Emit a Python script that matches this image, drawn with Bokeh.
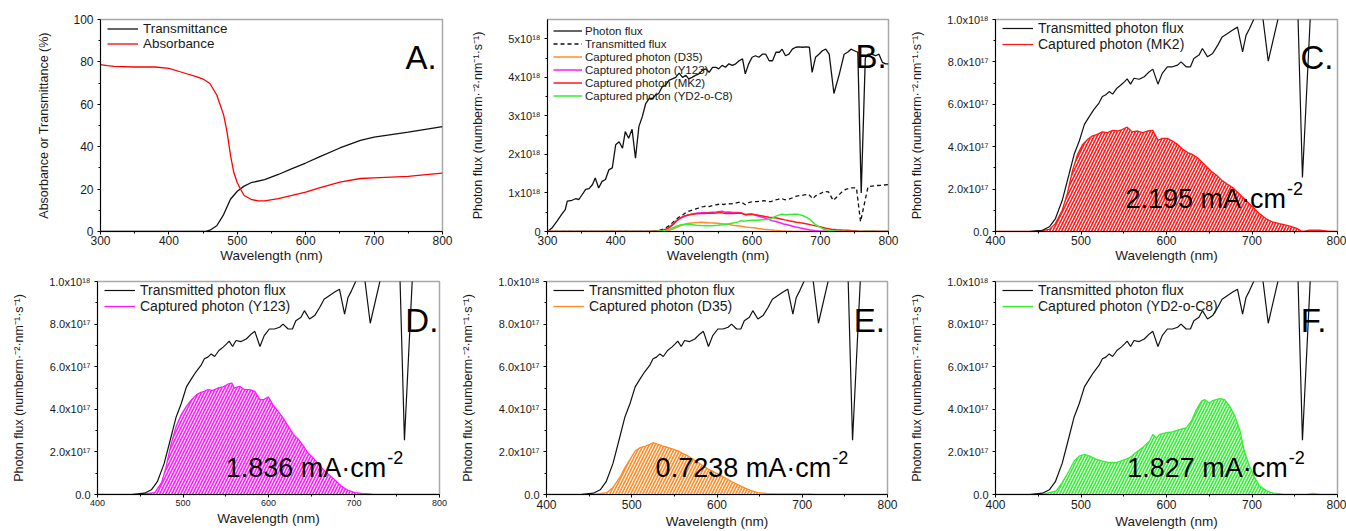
from bokeh.plotting import figure
from bokeh.layouts import row, column
from bokeh.models import FixedTicker, CustomJSTickFormatter, Label, Legend, LegendItem
from bokeh.embed import file_html
from bokeh.resources import INLINE

FONT = "Liberation Sans"

# ---------------- data ----------------
wl_transmittance = [300, 440, 450, 455, 460, 470, 480, 490, 500, 510, 520, 540, 560, 580, 600, 620, 650, 680, 700, 750, 800]
transmittance = [0, 0, 0.0, 0.2, 0.6, 2.7, 8.0, 15.2, 19.0, 21.4, 23.0, 24.5, 26.9, 29.7, 32.3, 35.2, 39.4, 43.0, 44.5, 46.9, 49.5]

wl_absorbance = [300, 310, 320, 350, 380, 400, 420, 440, 450, 460, 470, 480, 485, 490, 495, 500, 505, 510, 520, 530,
                 540, 560, 580, 600, 620, 650, 680, 700, 750, 780, 800]
absorbance = [78.7, 78.2, 77.9, 77.6, 77.6, 76.9, 75.0, 73.0, 71.9, 69.8, 64.4, 55.0, 47.0, 36.0, 27.7, 23.0, 19.8, 17.0, 15.2, 14.4,
              14.4, 15.5, 17.0, 18.6, 20.6, 23.3, 25.0, 25.3, 26.0, 26.9, 27.5]

# (wavelength nm, value in 1e18 photons)
photon_flux_1e18 = [
    (300, 0.0), (307, 0.10), (314, 0.27), (321, 0.45), (326, 0.57), (329, 0.79), (336, 0.81), (341, 0.85), (346, 0.83),
    (351, 0.96), (356, 1.09), (361, 1.11), (366, 1.22), (370, 1.39), (375, 1.13), (380, 1.30), (385, 1.35), (390, 1.60),
    (395, 1.65), (400, 2.25), (405, 2.33), (410, 2.16), (414, 2.59), (419, 2.42), (424, 2.65), (429, 1.90), (434, 2.72),
    (439, 2.98), (444, 3.32), (449, 3.45), (454, 3.45), (458, 3.53), (463, 3.58), (468, 3.75), (473, 3.79), (478, 3.92),
    (483, 3.96), (488, 4.00), (493, 4.11), (498, 4.00), (503, 4.05), (507, 3.96), (512, 4.00), (517, 4.05), (522, 4.09),
    (527, 4.18), (532, 4.22), (537, 4.13), (542, 4.26), (547, 4.26), (551, 4.22), (556, 4.31), (561, 4.26), (566, 4.35),
    (571, 4.31), (576, 4.35), (581, 4.43), (586, 4.48), (590, 4.09), (595, 4.35), (600, 4.52), (605, 4.56), (610, 4.52),
    (615, 4.60), (620, 4.60), (625, 4.43), (630, 4.43), (635, 4.65), (640, 4.65), (644, 4.73), (649, 4.56), (654, 4.60),
    (659, 4.73), (664, 4.78), (669, 4.79), (674, 4.78), (679, 4.79), (684, 4.78), (688, 4.13), (693, 4.52), (698, 4.60),
    (703, 4.69), (708, 4.73), (713, 4.60), (720, 3.58), (728, 4.09), (735, 4.60), (740, 4.65), (745, 4.73), (750, 4.69),
    (755, 4.65), (760, 1.00), (766, 4.50), (770, 4.60), (775, 4.60), (781, 4.56), (786, 4.60), (791, 4.39), (796, 4.35),
    (800, 4.35)]

# (wavelength nm, value in 1e17 photons)
transmitted_flux_1e17 = [
    (300, 0), (440, 0), (447, 0.03), (455, 0.06), (463, 0.22), (470, 0.6), (478, 1.46), (486, 2.7), (492, 3.64), (498, 4.27),
    (504, 5.05), (510, 5.44), (515, 5.75), (521, 6.06), (525, 6.37), (529, 6.45), (533, 6.6), (537, 6.48), (542, 6.76),
    (547, 6.92), (551, 7.07), (554, 7.2), (558, 6.95), (562, 7.23), (568, 7.18), (574, 7.3), (580, 7.54), (584, 7.66),
    (590, 6.95), (595, 7.46), (601, 7.77), (607, 7.77), (613, 7.85), (617, 8.0), (623, 7.77), (628, 7.77), (632, 8.16),
    (638, 8.32), (642, 8.63), (648, 8.24), (654, 8.4), (660, 8.79), (665, 9.17), (671, 9.33), (677, 9.49), (683, 9.64),
    (689, 8.47), (693, 9.25), (697, 9.56), (702, 10.0), (706, 10.4), (712, 10.3), (719, 8.04), (732, 10.3), (737, 10.9),
    (745, 11.3), (753, 11.3), (759, 2.55), (770, 11.6), (780, 11.9), (790, 12.0), (800, 12.2)]

captured_mk2_1e17 = [
    (300, 0), (447, 0), (463, 0.1), (470, 0.37), (478, 1.0), (484, 1.78), (490, 2.87), (496, 3.64), (502, 4.11), (508, 4.35),
    (513, 4.5), (519, 4.58), (525, 4.7), (531, 4.66), (537, 4.77), (543, 4.74), (548, 4.81), (554, 4.92), (560, 4.7),
    (566, 4.74), (572, 4.66), (578, 4.74), (584, 4.77), (590, 4.3), (595, 4.39), (601, 4.39), (607, 4.27), (613, 4.11),
    (619, 3.88), (625, 3.72), (630, 3.64), (636, 3.49), (642, 3.26), (648, 3.02), (654, 2.79), (660, 2.6), (665, 2.4),
    (671, 2.24), (677, 2.09), (685, 1.78), (693, 1.46), (701, 1.15), (708, 0.87), (716, 0.61), (724, 0.45), (732, 0.37),
    (740, 0.3), (747, 0.22), (753, 0.14), (757, 0.03), (761, 0), (767, 0.06), (779, 0.06), (786, 0.03), (792, 0), (800, 0)]

captured_y123_1e17 = [
    (300, 0), (450, 0), (467, 0.09), (475, 0.56), (480, 1.26), (486, 2.35), (492, 3.2), (498, 3.75), (504, 4.14), (510, 4.45),
    (516, 4.69), (521, 4.8), (525, 4.84), (529, 4.92), (535, 4.89), (541, 5.0), (547, 5.05), (553, 5.19), (557, 5.23),
    (560, 5.0), (566, 5.08), (572, 4.92), (578, 4.92), (584, 4.84), (590, 4.45), (594, 4.45), (600, 4.58), (605, 4.22),
    (611, 3.91), (617, 3.6), (623, 3.21), (629, 2.82), (635, 2.59), (641, 2.27), (646, 1.96), (652, 1.73), (658, 1.45),
    (664, 1.18), (670, 0.95), (678, 0.67), (685, 0.4), (693, 0.2), (701, 0.09), (709, 0.05), (721, 0.02), (740, 0), (800, 0)]

captured_d35_1e17 = [
    (300, 0), (455, 0), (471, 0.09), (478, 0.33), (486, 0.8), (492, 1.26), (498, 1.65), (504, 2.04), (510, 2.2), (516, 2.27),
    (521, 2.35), (525, 2.43), (531, 2.35), (537, 2.27), (543, 2.2), (549, 2.12), (555, 2.04), (560, 1.92), (566, 1.81),
    (572, 1.65), (578, 1.5), (584, 1.34), (590, 1.18), (596, 1.07), (602, 0.95), (609, 0.79), (617, 0.61), (625, 0.45),
    (633, 0.3), (641, 0.17), (648, 0.09), (658, 0.05), (670, 0.03), (709, 0.03), (717, 0), (800, 0)]

captured_yd2_1e17 = [
    (300, 0), (455, 0), (471, 0.17), (478, 0.56), (486, 1.1), (492, 1.57), (498, 1.8), (504, 1.88), (510, 1.8), (518, 1.65),
    (525, 1.57), (533, 1.5), (541, 1.5), (549, 1.6), (557, 1.73), (564, 1.96), (572, 2.2), (580, 2.5), (584, 2.82),
    (588, 2.66), (592, 2.82), (600, 2.9), (607, 2.94), (615, 3.05), (623, 3.13), (629, 3.44), (635, 3.99), (641, 4.38),
    (645, 4.45), (650, 4.3), (654, 4.41), (662, 4.5), (668, 4.45), (674, 4.14), (680, 3.68), (686, 2.98), (691, 2.04),
    (697, 1.34), (703, 0.79), (709, 0.4), (717, 0.17), (725, 0.06), (736, 0.02), (756, 0), (765, 0.02), (771, 0.05),
    (779, 0.02), (790, 0), (800, 0)]

current_labels = {"MK2": "2.195", "Y123": "1.836", "D35": "0.7238", "YD2-o-C8": "1.827"}

wl_ticks_AB = [300, 400, 500, 600, 700, 800]
wl_minor_AB = [350, 450, 550, 650, 750]
wl_ticks_CF = [400, 500, 600, 700, 800]
wl_minor_CF = [450, 550, 650, 750]
pct_ticks = [0, 20, 40, 60, 80, 100]
pct_minor = [10, 30, 50, 70, 90]
flux_ticks_B = [0, 1e18, 2e18, 3e18, 4e18, 5e18]
flux_minor_B = [0.5e18, 1.5e18, 2.5e18, 3.5e18, 4.5e18]
flux_ticks_CF = [0, 2e17, 4e17, 6e17, 8e17, 1e18]
flux_minor_CF = [1e17, 3e17, 5e17, 7e17, 9e17]

C_ORANGE = "#ff8c26"
C_MAGENTA = "#ff1aff"
C_RED = "#ff1a1a"
C_GREEN = "#33ee33"

YLABEL_FLUX = "Photon flux (numberm·⁻²·nm⁻¹·s⁻¹)"


def split(pairs, scale):
    return [p[0] for p in pairs], [p[1] * scale for p in pairs]


def base_fig(width, height, xr, yr, mbl, mbr, mbt, mbb, bottom_row):
    p = figure(width=width, height=height, x_range=xr, y_range=yr, output_backend="svg",
               toolbar_location=None, min_border_left=mbl, min_border_right=mbr,
               min_border_top=mbt, min_border_bottom=mbb)
    p.xgrid.visible = False
    p.ygrid.visible = False
    p.outline_line_color = "#a8a8a8"
    p.outline_line_width = 1.5
    p.background_fill_color = "white"
    p.border_fill_color = "white"
    for ax in (p.xaxis[0], p.yaxis[0]):
        ax.axis_line_color = "black"
        ax.axis_line_width = 1
        ax.major_tick_in = 0
        ax.major_tick_out = 3
        ax.minor_tick_in = 0
        ax.minor_tick_out = 2
        ax.major_tick_line_color = "black"
        ax.minor_tick_line_color = "black"
        ax.major_label_text_font = FONT
        ax.axis_label_text_font = FONT
        ax.axis_label_text_font_style = "normal"
        ax.major_label_text_color = "#1a1a1a"
        ax.axis_label_text_color = "#1a1a1a"
    xa = p.xaxis[0]
    xa.axis_label = "Wavelength (nm)"
    xa.major_label_text_font_size = "12px"
    xa.axis_label_text_font_size = "13.5px"
    if bottom_row:
        xa.major_label_standoff = 2
        xa.axis_label_standoff = 2
    else:
        xa.major_label_standoff = 1
        xa.axis_label_standoff = 0
    ya = p.yaxis[0]
    ya.major_label_standoff = 4
    ya.axis_label_text_font_size = "12.5px"
    return p


def add_legend(p, items, frame_h, x_off, top_off, item_h, glyph_w, standoff, font_size):
    n = len(items)
    leg = Legend(items=[LegendItem(label=l, renderers=[r]) for l, r in items])
    leg.padding = 0
    leg.margin = 0
    leg.spacing = 0
    leg.label_height = item_h
    leg.glyph_height = item_h
    leg.glyph_width = glyph_w
    leg.label_standoff = standoff
    leg.label_text_font = FONT
    leg.label_text_font_size = font_size
    leg.label_text_color = "#1a1a1a"
    leg.border_line_color = None
    leg.background_fill_alpha = 0
    leg.location = (x_off, int(round(frame_h - top_off - n * item_h)))
    p.add_layout(leg)


def panel_letter(p, x, y, text):
    p.add_layout(Label(x=x, y=y, text=text, text_font=FONT, text_font_size="33px",
                       text_baseline="alphabetic", text_align="left", text_color="black"))


TOP_H, TOP_T, TOP_B = 265, 19, 33
BOT_H, BOT_T, BOT_B = 266, 16, 36
TOP_FRAME = TOP_H - TOP_T - TOP_B
BOT_FRAME = BOT_H - BOT_T - BOT_B

# ---------------- Panel A ----------------
pA = base_fig(455, TOP_H, (300, 800), (0, 100), 100, 13, TOP_T, TOP_B, False)
pA.xaxis.ticker = FixedTicker(ticks=wl_ticks_AB, minor_ticks=wl_minor_AB)
pA.yaxis.ticker = FixedTicker(ticks=pct_ticks, minor_ticks=pct_minor)
pA.yaxis.major_label_text_font_size = "12px"
pA.yaxis.axis_label = "Absorbance or Transmittance (%)"
pA.yaxis.axis_label_standoff = 19
rT = pA.line(wl_transmittance, transmittance, line_color="#111111", line_width=1.3)
rA = pA.line(wl_absorbance, absorbance, line_color="#ff0000", line_width=1.3)
add_legend(pA, [("Transmittance", rT), ("Absorbance", rA)], TOP_FRAME, 7, 3, 15, 31, 5, "13.4px")
panel_letter(pA, 746, 82.2, "A.")

# ---------------- Panel B ----------------
tick_fmt_B = CustomJSTickFormatter(code="""
if (Math.abs(tick) < 1) { return "0"; }
return Math.round(tick / 1e18) + "x10\u00b9\u2078";
""")
pB = base_fig(445, TOP_H, (300, 800), (0, 5.5e18), 92, 12, TOP_T, TOP_B, False)
pB.xaxis.ticker = FixedTicker(ticks=wl_ticks_AB, minor_ticks=wl_minor_AB)
pB.yaxis.ticker = FixedTicker(ticks=flux_ticks_B, minor_ticks=flux_minor_B)
pB.yaxis.formatter = tick_fmt_B
pB.yaxis.major_label_text_font_size = "11px"
pB.yaxis.axis_label = YLABEL_FLUX
pB.yaxis.axis_label_standoff = 20

x, y = split(photon_flux_1e18, 1e18)
r_pf = pB.line(x, y, line_color="#111111", line_width=1.3)
x, y = split(transmitted_flux_1e17, 1e17)
r_tf = pB.line(x, y, line_color="#111111", line_width=1.3, line_dash="4 3")
x, y = split(captured_d35_1e17, 1e17)
r_d35 = pB.line(x, y, line_color=C_ORANGE, line_width=1.5)
x, y = split(captured_y123_1e17, 1e17)
r_y123 = pB.line(x, y, line_color=C_MAGENTA, line_width=1.5)
x, y = split(captured_mk2_1e17, 1e17)
r_mk2 = pB.line(x, y, line_color=C_RED, line_width=1.5)
x, y = split(captured_yd2_1e17, 1e17)
r_yd2 = pB.line(x, y, line_color=C_GREEN, line_width=1.5)
add_legend(pB, [("Photon flux", r_pf), ("Transmitted flux", r_tf), ("Captured photon (D35)", r_d35),
                ("Captured photon (Y123)", r_y123), ("Captured photon (MK2)", r_mk2),
                ("Captured photon (YD2-o-C8)", r_yd2)], TOP_FRAME, 6, 6, 13, 29, 3, "11.5px")
panel_letter(pB, 751.6, 4.54e18, "B.")

# ---------------- Panels C-F ----------------
tick_fmt_CF = """
if (Math.abs(tick) < 1) { return "0.0"; }
if (tick >= 0.99e18) { return "1.0x10\u00b9\u2078"; }
return (tick / 1e17).toFixed(1) + "x10\u00b9\u2077";
"""

CUR_FONT = 27
CUR_WIDTH_EM = {"2.195": 5.946, "1.836": 5.946, "1.827": 5.946, "0.7238": 6.502}


def captured_panel(width, height, mbl, mbr, mbt, mbb, bottom, frame_h, data, color, dye, letter, letter_x,
                   letter_y, cur_x, cur_y, small_xticks=False):
    p = base_fig(width, height, (400, 800), (0, 1e18), mbl, mbr, mbt, mbb, bottom)
    p.xaxis.ticker = FixedTicker(ticks=wl_ticks_CF, minor_ticks=wl_minor_CF)
    p.yaxis.ticker = FixedTicker(ticks=flux_ticks_CF, minor_ticks=flux_minor_CF)
    p.yaxis.formatter = CustomJSTickFormatter(code=tick_fmt_CF)
    p.yaxis.major_label_text_font_size = "11px"
    p.yaxis.axis_label = YLABEL_FLUX
    p.yaxis.axis_label_standoff = 20
    if small_xticks:
        p.xaxis.major_label_text_font_size = "9px"
    cx, cy = split(data, 1e17)
    p.varea(x=cx, y1=[0] * len(cx), y2=cy, fill_color=color, fill_alpha=1.0,
            hatch_pattern="/", hatch_color="white", hatch_scale=6, hatch_weight=1.2, hatch_alpha=0.95)
    r_c = p.line(cx, cy, line_color=color, line_width=1.3)
    tx, ty = split(transmitted_flux_1e17, 1e17)
    r_t = p.line(tx, ty, line_color="#111111", line_width=1.2)
    add_legend(p, [("Transmitted photon flux", r_t), ("Captured photon (%s)" % dye, r_c)], frame_h,
               7, 2, 16, 31, 5, "14px")
    panel_letter(p, letter_x, letter_y, letter)
    num = current_labels[dye]
    p.add_layout(Label(x=cur_x, y=cur_y, text="%s mA·cm" % num, text_font=FONT,
                       text_font_size="%dpx" % CUR_FONT, text_baseline="alphabetic", text_align="left",
                       text_color="black"))
    p.add_layout(Label(x=cur_x, y=cur_y, x_offset=CUR_WIDTH_EM[num] * CUR_FONT + 1, y_offset=10, text="-2",
                       text_font=FONT, text_font_size="18px", text_baseline="alphabetic", text_align="left",
                       text_color="black"))
    return p


pC = captured_panel(446, TOP_H, 95, 9, TOP_T, TOP_B, False, TOP_FRAME, captured_mk2_1e17, C_RED, "MK2",
                    "C.", 756.7, 8.22e17, 552, 1.54e17)
pD = captured_panel(450, BOT_H, 97, 11, BOT_T, BOT_B, True, BOT_FRAME, captured_y123_1e17, C_MAGENTA, "Y123",
                    "D.", 760, 8.18e17, 550, 1.26e17, small_xticks=True)
pE = captured_panel(450, BOT_H, 96, 13, BOT_T, BOT_B, True, BOT_FRAME, captured_d35_1e17, C_ORANGE, "D35",
                    "E.", 760.5, 8.18e17, 528, 1.26e17)
pF = captured_panel(446, BOT_H, 95, 9, BOT_T, BOT_B, True, BOT_FRAME, captured_yd2_1e17, C_GREEN, "YD2-o-C8",
                    "F.", 757, 8.18e17, 554, 1.26e17)

layout = column(row(pA, pB, pC), row(pD, pE, pF))
with open("out.html", "w", encoding="utf-8") as f:
    f.write(file_html(layout, INLINE))
